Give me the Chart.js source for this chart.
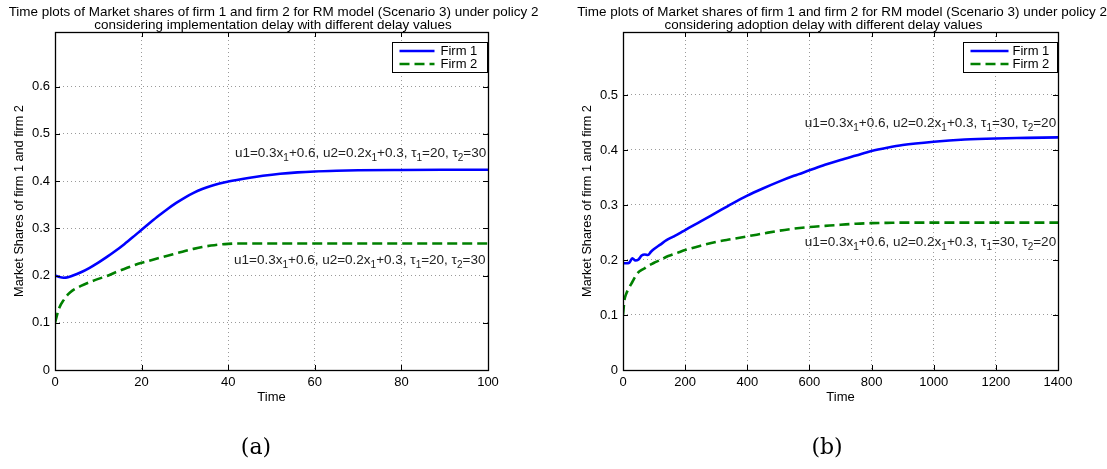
<!DOCTYPE html>
<html><head><meta charset="utf-8">
<script src="https://cdn.jsdelivr.net/npm/chart.js@4.4.1/dist/chart.umd.min.js"></script>
<style>
html,body{margin:0;padding:0;background:#fff;}
#wrap{position:relative;width:1107px;height:469px;background:#fff;}
.c{position:absolute;top:0;height:469px;}
</style></head>
<body><div id="wrap">
<div class="c" style="left:0;width:553px"><canvas id="ca"></canvas></div>
<div class="c" style="left:553px;width:554px"><canvas id="cb"></canvas></div>
</div>
<script>
// ---------- data ----------
const timeA  = [0,1,2,3,4,6,8,10,12,14,16,18,20,22,24,26,28,30,32,34,36,38,40,42,45,48,52,56,60,65,70,80,90,100];
const firm1A = [0.200,0.197,0.1955,0.1965,0.1995,0.207,0.2165,0.2275,0.2395,0.2525,0.2665,0.2815,0.297,0.3122,0.327,0.341,0.3538,0.3652,0.375,0.3832,0.3898,0.395,0.399,0.4025,0.4072,0.4112,0.4155,0.4185,0.4205,0.422,0.423,0.4237,0.424,0.424];
const firm2A = [0.100,0.132,0.148,0.160,0.168,0.178,0.186,0.193,0.199,0.207,0.214,0.221,0.227,0.232,0.237,0.242,0.247,0.252,0.2565,0.2605,0.2635,0.2658,0.2672,0.2679,0.268,0.268,0.268,0.268,0.268,0.268,0.268,0.268,0.268,0.268];
const xTicksA = [0,20,40,60,80,100];
const yTicksA = [0,0.1,0.2,0.3,0.4,0.5,0.6];

const timeB  = [0,5,10,20,30,40,50,60,70,80,90,100,120,140,160,180,200,250,300,350,400,450,500,550,600,650,700,750,800,850,900,1000,1100,1200,1300,1400];
const firm1B = [0.195,0.194,0.194,0.195,0.203,0.199,0.201,0.208,0.210,0.209,0.215,0.220,0.228,0.236,0.242,0.248,0.2545,0.270,0.286,0.302,0.317,0.330,0.342,0.353,0.363,0.373,0.382,0.390,0.398,0.404,0.409,0.415,0.419,0.421,0.422,0.423];
const firm2B = [0.100,0.128,0.138,0.150,0.160,0.170,0.178,0.182,0.185,0.189,0.192,0.195,0.200,0.206,0.210,0.214,0.218,0.226,0.233,0.238,0.243,0.248,0.253,0.257,0.260,0.262,0.264,0.266,0.267,0.2675,0.268,0.268,0.268,0.268,0.268,0.268];
const xTicksB = [0,200,400,600,800,1000,1200,1400];
const yTicksB = [0,0.1,0.2,0.3,0.4,0.5];

const seriesNames = ['Firm 1','Firm 2'];
const titleA = ['Time plots of Market shares of firm 1 and firm 2 for RM model (Scenario 3) under policy 2',
                'considering implementation delay with different delay values'];
const titleB = ['Time plots of Market shares of firm 1 and firm 2 for RM model (Scenario 3) under policy 2',
                'considering adoption delay with different delay values'];
const noteA = ['u1=0.3x','1','+0.6, u2=0.2x','1','+0.3, \u03C4','1','=20, \u03C4','2','=30'];
const noteB = ['u1=0.3x','1','+0.6, u2=0.2x','1','+0.3, \u03C4','1','=30, \u03C4','2','=20'];
const yLabel = 'Market Shares of firm 1 and firm 2';
const xLabel = 'Time';

// ---------- drawing ----------
const FONT = "'Liberation Sans', Arial, Helvetica, sans-serif";
const pts = (t, v) => t.map((x, i) => ({x, y: v[i]}));

function drawRich(ctx, parts, x, y) {
  const mainF = '13.5px ' + FONT, subF = '10px ' + FONT;
  let w = 0;
  parts.forEach((t, i) => { ctx.font = (i % 2) ? subF : mainF; w += ctx.measureText(t).width; });
  let cx = x - w;
  ctx.textBaseline = 'middle'; ctx.textAlign = 'left'; ctx.fillStyle = '#222';
  parts.forEach((t, i) => {
    ctx.font = (i % 2) ? subF : mainF;
    ctx.fillText(t, cx, (i % 2) ? y + 5 : y);
    cx += ctx.measureText(t).width;
  });
}

const matlabPlugin = {
  id: 'matlab',
  afterDraw(chart, args, o) {
    const {ctx, chartArea: a, scales: {x, y}} = chart;
    ctx.save();
    // title
    const T = o.title, cxT = (a.left + a.right) / 2;
    ctx.fillStyle = '#000'; ctx.textAlign = 'center'; ctx.textBaseline = 'middle';
    T.lines.forEach((s, i) => { ctx.font = T.sizes[i] + 'px ' + FONT; ctx.fillText(s, cxT + T.dx[i], T.ys[i]); });
    // annotations
    o.notes.forEach(n => drawRich(ctx, n.parts, x.getPixelForValue(n.x), y.getPixelForValue(n.y)));
    // inner ticks
    ctx.setLineDash([]); ctx.strokeStyle = '#000'; ctx.lineWidth = 1;
    ctx.beginPath();
    x.ticks.forEach(t => { const p = Math.round(x.getPixelForValue(t.value)) + 0.5;
      ctx.moveTo(p, a.bottom); ctx.lineTo(p, a.bottom - 5); ctx.moveTo(p, a.top); ctx.lineTo(p, a.top + 5); });
    y.ticks.forEach(t => { const p = Math.round(y.getPixelForValue(t.value)) + 0.5;
      ctx.moveTo(a.left, p); ctx.lineTo(a.left + 5, p); ctx.moveTo(a.right, p); ctx.lineTo(a.right - 5, p); });
    ctx.stroke();
    // box
    ctx.lineWidth = 1.3;
    ctx.strokeRect(Math.round(a.left) + 0.5, Math.round(a.top) + 0.5, Math.round(a.right - a.left), Math.round(a.bottom - a.top));
    // legend
    const L = o.legend;
    const bx = Math.round(a.right - L.gapRight - L.width) + 0.5, by = Math.round(a.top + L.gapTop) + 0.5;
    ctx.fillStyle = '#fff'; ctx.fillRect(bx, by, L.width, L.height);
    ctx.lineWidth = 1; ctx.strokeStyle = '#000'; ctx.strokeRect(bx, by, L.width, L.height);
    chart.data.datasets.forEach((ds, i) => {
      const cy = by + L.pad + L.rowH * i + L.rowH / 2;
      ctx.beginPath(); ctx.strokeStyle = ds.borderColor; ctx.lineWidth = ds.borderWidth;
      ctx.setLineDash(ds.borderDash || []);
      ctx.moveTo(bx + L.lineX0, cy); ctx.lineTo(bx + L.lineX1, cy); ctx.stroke();
      ctx.setLineDash([]);
      ctx.fillStyle = '#000'; ctx.font = '13px ' + FONT; ctx.textBaseline = 'middle'; ctx.textAlign = 'left';
      ctx.fillText(ds.label, bx + L.textX, cy);
    });
    // caption
    ctx.fillStyle = '#000'; ctx.font = "22px 'DejaVu Serif', serif"; ctx.textAlign = 'center'; ctx.textBaseline = 'middle';
    ctx.fillText(o.caption.text, o.caption.x, o.caption.y);
    ctx.restore();
  }
};

function makeChart(id, cfg) {
  return new Chart(document.getElementById(id), {
    type: 'line',
    data: { datasets: [
      { label: seriesNames[0], data: pts(cfg.t, cfg.f1), borderColor: '#0000ff', borderWidth: 2.6, pointRadius: 0, cubicInterpolationMode: 'monotone', fill: false },
      { label: seriesNames[1], data: pts(cfg.t, cfg.f2), borderColor: '#008000', borderWidth: 2.6, borderDash: [10, 5], pointRadius: 0, cubicInterpolationMode: 'monotone', fill: false }
    ]},
    options: {
      responsive: true, maintainAspectRatio: false, animation: false, devicePixelRatio: 1,
      layout: { padding: cfg.padding },
      plugins: {
        legend: { display: false }, tooltip: { enabled: false }, title: { display: false },
        matlab: { title: cfg.title, notes: cfg.notes, legend: cfg.legend, caption: cfg.caption }
      },
      scales: {
        x: { type: 'linear', min: cfg.xmin, max: cfg.xmax,
             afterBuildTicks: s => { s.ticks = cfg.xt.map(v => ({value: v})); },
             afterFit: s => { s.height = 40; },
             ticks: { color: '#000', padding: 5, maxRotation: 0, font: { family: FONT, size: 13 }, callback: v => String(v) },
             grid: { color: '#9a9a9a', lineWidth: 1, drawTicks: false },
             border: { display: false, dash: [1, 3] },
             title: { display: true, text: xLabel, color: '#000', font: { family: FONT, size: 13 }, padding: { top: 0, bottom: 5 } } },
        y: { type: 'linear', min: 0, max: cfg.ymax,
             afterBuildTicks: s => { s.ticks = cfg.yt.map(v => ({value: v})); },
             afterFit: s => { s.width = cfg.yw; },
             ticks: { color: '#000', padding: 5, font: { family: FONT, size: 13 }, callback: v => String(v) },
             grid: { color: '#9a9a9a', lineWidth: 1, drawTicks: false },
             border: { display: false, dash: [1, 3] },
             title: { display: true, text: yLabel, color: '#000', font: { family: FONT, size: 12.7 }, padding: { top: 4, bottom: 0 } } }
      }
    },
    plugins: [matlabPlugin]
  });
}

makeChart('ca', {
  t: timeA, f1: firm1A, f2: firm2A, xt: xTicksA, yt: yTicksA, xmin: 0, xmax: 100, ymax: 0.7158,
  title: { lines: titleA, sizes: [13.45, 13.45], ys: [12, 25.5], dx: [2, 1.5] },
  padding: { left: 8, right: 65, top: 32, bottom: 59 }, yw: 47,
  notes: [ { parts: noteA, x: 99.6, y: 0.46 }, { parts: noteA, x: 99.4, y: 0.233 } ],
  legend: { gapRight: 1, gapTop: 10, width: 95, height: 30, pad: 2, rowH: 13, lineX0: 7, lineX1: 42, textX: 48 },
  caption: { text: '(a)', x: 256, y: 448 }
});
makeChart('cb', {
  t: timeB, f1: firm1B, f2: firm2B, xt: xTicksB, yt: yTicksB, xmin: 0, xmax: 1400, ymax: 0.6145,
  title: { lines: titleB, sizes: [13.45, 13.45], ys: [12, 25.5], dx: [1.5, -17] },
  padding: { left: 23, right: 49, top: 32, bottom: 59 }, yw: 47,
  notes: [ { parts: noteB, x: 1394, y: 0.449 }, { parts: noteB, x: 1394, y: 0.2327 } ],
  legend: { gapRight: 1, gapTop: 10, width: 94, height: 30, pad: 2, rowH: 13, lineX0: 7, lineX1: 45, textX: 49 },
  caption: { text: '(b)', x: 274, y: 448 }
});
</script>
</body></html>
